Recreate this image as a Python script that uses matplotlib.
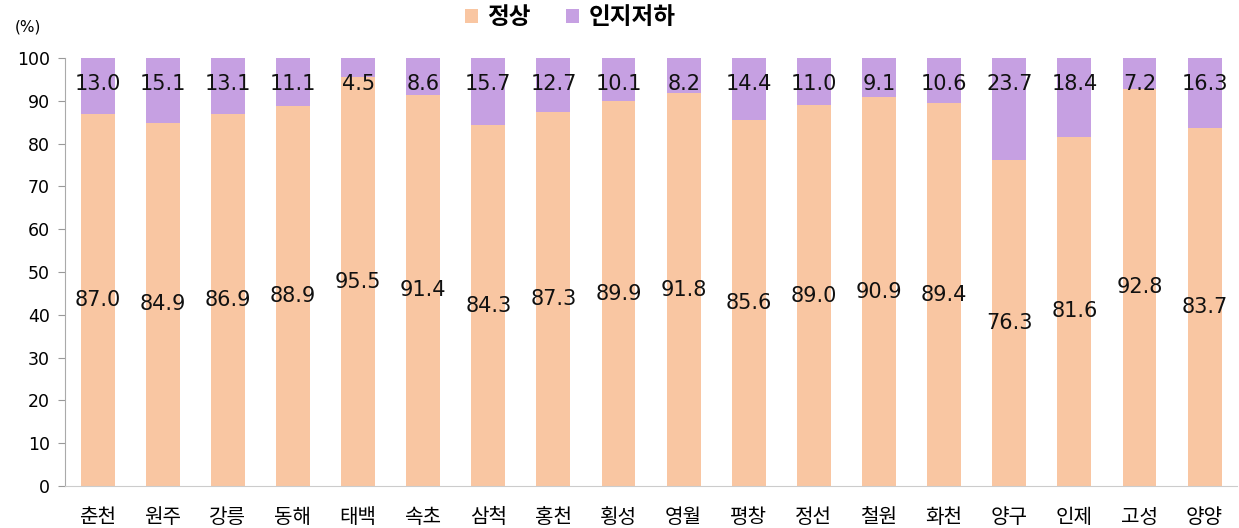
import numpy as np
import matplotlib.pyplot as plt

plt.rcParams["font.family"] = ["Noto Sans CJK KR", "DejaVu Sans"]

regions = ["춘천", "원주", "강릉", "동해", "태백", "속초", "삼척", "홍천", "횡성",
           "영월", "평창", "정선", "철원", "화천", "양구", "인제", "고성", "양양"]
normal = [87.0, 84.9, 86.9, 88.9, 95.5, 91.4, 84.3, 87.3, 89.9,
          91.8, 85.6, 89.0, 90.9, 89.4, 76.3, 81.6, 92.8, 83.7]
decline = [13.0, 15.1, 13.1, 11.1, 4.5, 8.6, 15.7, 12.7, 10.1,
           8.2, 14.4, 11.0, 9.1, 10.6, 23.7, 18.4, 7.2, 16.3]

c_normal = "#F9C6A2"
c_decline = "#C6A0E2"

fig = plt.figure(figsize=(12.39, 5.28), dpi=100)
ax = fig.add_axes([0.0525, 0.0795, 0.946, 0.8105])

x = np.arange(len(regions))
w = 0.52
b1 = ax.bar(x, normal, w, color=c_normal, label="정상")
b2 = ax.bar(x, decline, w, bottom=normal, color=c_decline, label="인지저하")

# 막대 값 라벨
num_font = dict(family="DejaVu Sans", fontsize=15, color="#111111")
for xi, n, d in zip(x, normal, decline):
    ax.text(xi, n / 2, f"{n:.1f}", ha="center", va="center", **num_font)
    ax.text(xi, 94, f"{d:.1f}", ha="center", va="center", **num_font)

ax.set_xlim(-0.5, len(regions) - 0.5)
ax.set_ylim(0, 100)
ax.set_yticks(range(0, 101, 10))
ax.set_xticks(x)
ax.set_xticklabels(regions, fontsize=14.5)
ax.tick_params(axis="x", length=0, pad=15)
ax.tick_params(axis="y", length=5, color="#999999", pad=6)
for t in ax.get_yticklabels():
    t.set_fontfamily("DejaVu Sans")
    t.set_fontsize(12.5)

for s in ["top", "right"]:
    ax.spines[s].set_visible(False)
ax.spines["left"].set_color("#AAAAAA")
ax.spines["bottom"].set_color("#CCCCCC")

fig.text(0.012, 0.948, "(%)", fontsize=11, ha="left", va="center", family="DejaVu Sans")

fig.legend(handles=[b1, b2], loc="upper center", bbox_to_anchor=(0.46, 1.03), ncol=2,
           frameon=False, prop={"size": 17, "weight": "bold"},
           handlelength=0.55, handleheight=0.55, handletextpad=0.4, columnspacing=1.5)

fig.savefig("out.png", dpi=100)
